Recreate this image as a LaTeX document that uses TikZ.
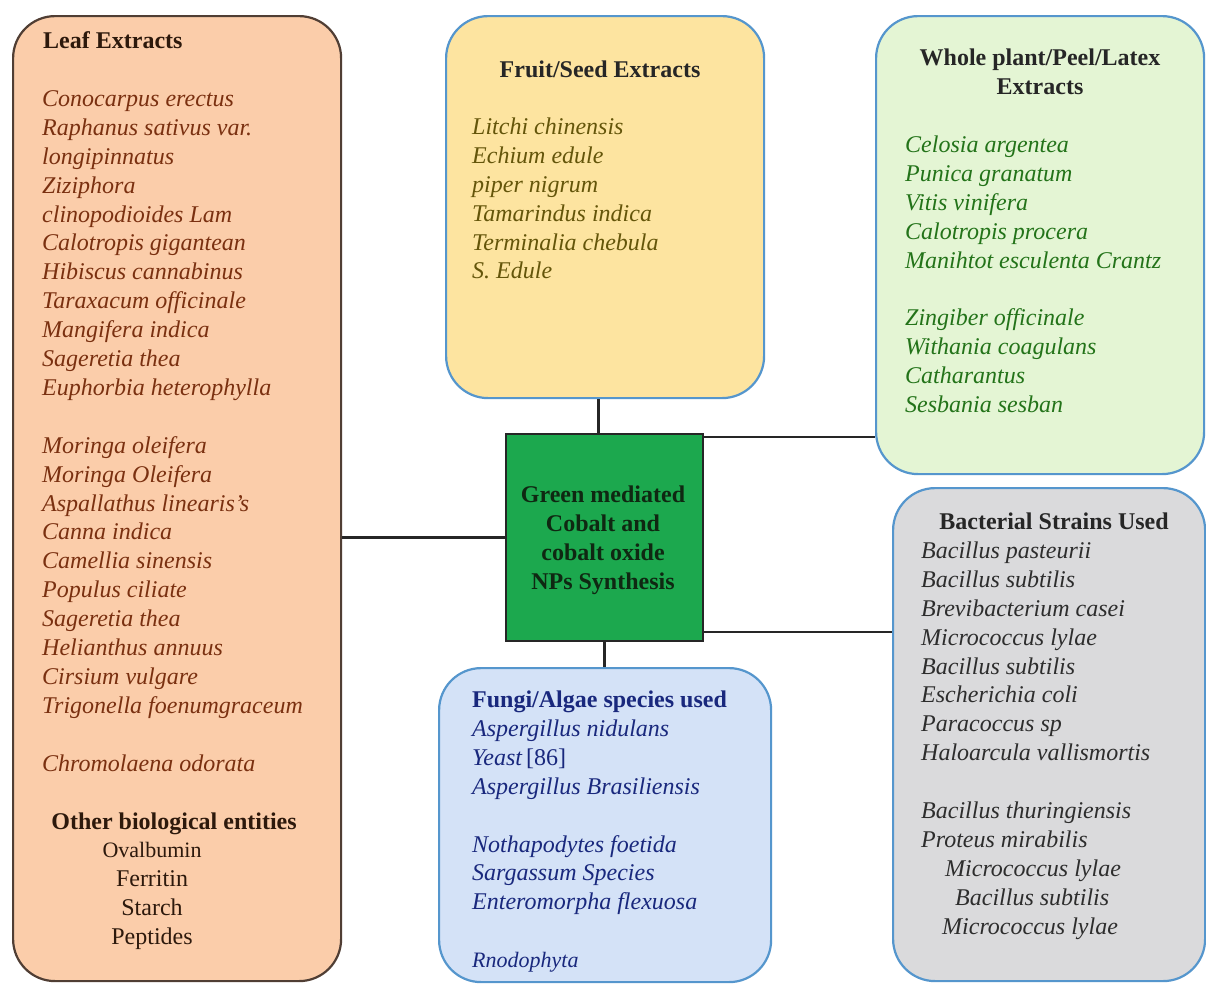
\documentclass[tikz,border=0pt]{standalone}
\usepackage{fontspec}
\setmainfont{Liberation Serif}
\definecolor{leaffill}{RGB}{251,205,170}
\definecolor{leafedge}{RGB}{80,62,52}
\definecolor{leaftext}{RGB}{122,48,16}
\definecolor{leafhead}{RGB}{45,25,12}
\definecolor{fruitfill}{RGB}{253,228,160}
\definecolor{fruittext}{RGB}{100,85,10}
\definecolor{wholefill}{RGB}{228,245,212}
\definecolor{wholetext}{RGB}{35,115,25}
\definecolor{bactfill}{RGB}{218,218,220}
\definecolor{bacttext}{RGB}{45,45,45}
\definecolor{fungifill}{RGB}{212,226,247}
\definecolor{fungitext}{RGB}{25,40,125}
\definecolor{edgeblue}{RGB}{85,150,205}
\definecolor{corefill}{RGB}{28,168,78}
\definecolor{coretext}{RGB}{15,40,18}
\begin{document}
\begin{tikzpicture}[x=1pt,y=-1pt,
  box/.style={draw=edgeblue, line width=2.2pt, rounded corners=42pt, anchor=north west, inner sep=0pt},
  lst/.style={align=left, anchor=north west, inner sep=0pt, font=\fontsize{24}{28.9}\selectfont\itshape},
  ttl/.style={inner sep=0pt, anchor=base, font=\fontsize{24}{28.9}\selectfont\bfseries},
  link/.style={line width=2.6pt, draw=black!85}]
\useasboundingbox (0,0) rectangle (1206,983);
\fill[white] (0,0) rectangle (1206,983);

% category boxes
\node[box, draw=leafedge, fill=leaffill, minimum width=328pt, minimum height=965pt] (leaf) at (12,15) {};
\node[box, fill=fruitfill, minimum width=318pt, minimum height=382pt] (fruit) at (445,15) {};
\node[box, fill=wholefill, minimum width=328pt, minimum height=458pt] (whole) at (875,15) {};
\node[box, fill=bactfill, minimum width=312pt, minimum height=493pt] (bact) at (892,487) {};
\node[box, fill=fungifill, minimum width=332pt, minimum height=314pt] (fungi) at (438,667) {};

% central box
\node[draw=black!85, line width=2pt, fill=corefill, anchor=north west, inner sep=0pt,
      minimum width=197pt, minimum height=207pt] (core) at (505,433) {};
\node[inner sep=0pt, anchor=north, align=center, text=coretext,
      font=\fontsize{24}{28.9}\selectfont\bfseries] (coretxt) at (603,482)
  {\strut Green mediated\\Cobalt and\\cobalt oxide\\NPs Synthesis};

% connectors
\draw[link] ([xshift=-6pt]core.north) -- ([xshift=-6pt]core.north |- fruit.south);
\draw[link] (core.south) -- (core.south |- fungi.north);
\draw[link] (core.west) -- (core.west -| leaf.east);
\draw[link] ([yshift=-4pt]core.north east) -- ([yshift=-4pt]core.north east -| whole.west);
\draw[link] ([yshift=10pt]core.south east) -- ([yshift=10pt]core.south east -| bact.west);

% leaf extracts
\node[ttl, anchor=base west, text=leafhead] (leafttl) at (43,48) {Leaf Extracts};
\node[lst, text=leaftext] (leaflist) at (42,86) {\strut Conocarpus erectus\\
Raphanus sativus var.\\
longipinnatus\\
Ziziphora\\
clinopodioides Lam\\
Calotropis gigantean\\
Hibiscus cannabinus\\
Taraxacum officinale\\
Mangifera indica\\
Sageretia thea\\
Euphorbia heterophylla\\[28.9pt]
Moringa oleifera\\
Moringa Oleifera\\
Aspallathus linearis's\\
Canna indica\\
Camellia sinensis\\
Populus ciliate\\
Sageretia thea\\
Helianthus annuus\\
Cirsium vulgare\\
Trigonella foenumgraceum\\[28.9pt]
Chromolaena odorata};
\node[ttl, text=leafhead] (otherttl) at (174,829) {Other biological entities};
\node[inner sep=0pt, anchor=north, align=center, text=leafhead,
      font=\fontsize{24}{28.9}\selectfont] (otherlist) at (152,837)
  {\strut{\fontsize{22}{28.9}\selectfont Ovalbumin}\\Ferritin\\Starch\\Peptides};

% fruit / seed extracts
\node[ttl, text=black!85] (fruitttl) at (600,77) {Fruit/Seed Extracts};
\node[lst, text=fruittext] (fruitlist) at (472,114) {\strut Litchi chinensis\\
Echium edule\\
piper nigrum\\
Tamarindus indica\\
Terminalia chebula\\
S. Edule};

% whole plant / peel / latex extracts
\node[inner sep=0pt, anchor=north, align=center, text=black!85,
      font=\fontsize{24}{28.9}\selectfont\bfseries] (wholettl) at (1040,45)
  {\strut Whole plant/Peel/Latex\\Extracts};
\node[lst, text=wholetext] (wholelist) at (905,132) {\strut Celosia argentea\\
Punica granatum\\
Vitis vinifera\\
Calotropis procera\\
Manihtot esculenta Crantz\\[28.9pt]
Zingiber officinale\\
Withania coagulans\\
Catharantus\\
Sesbania sesban};

% bacterial strains
\node[ttl, text=black!85] (bactttl) at (1054,529) {Bacterial Strains Used};
\node[lst, text=bacttext] (bactlist) at (921,538) {\strut Bacillus pasteurii\\
Bacillus subtilis\\
Brevibacterium casei\\
Micrococcus lylae\\
Bacillus subtilis\\
Escherichia coli\\
Paracoccus sp\\
Haloarcula vallismortis\\[28.9pt]
Bacillus thuringiensis\\
Proteus mirabilis\\
\hspace*{24pt}Micrococcus lylae\\
\hspace*{34pt}Bacillus subtilis\\
\hspace*{21pt}Micrococcus lylae};

% fungi / algae species
\node[ttl, anchor=base west, text=fungitext] (fungittl) at (472,707) {Fungi/Algae species used};
\node[lst, text=fungitext] (fungilist) at (472,716) {\strut Aspergillus nidulans\\
Yeast\,\upshape[86]\\
Aspergillus Brasiliensis\\[28.9pt]
Nothapodytes foetida\\
Sargassum Species\\
Enteromorpha flexuosa\\[28.9pt]
{\fontsize{22}{28.9}\selectfont Rnodophyta}};
\end{tikzpicture}
\end{document}
